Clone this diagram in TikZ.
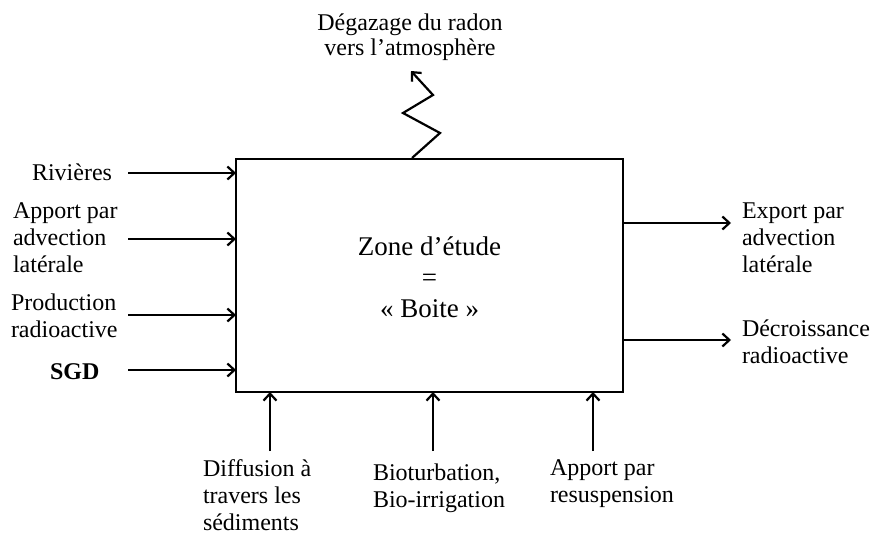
\documentclass[tikz,border=0pt]{standalone}
\usepackage{fontspec}
\setmainfont{Liberation Serif}
\usetikzlibrary{arrows.meta}
\tikzset{
  lbl/.style={inner sep=0pt, outer sep=0pt, align=left, anchor=base west, font=\fontsize{24}{27}\selectfont},
  flow/.style={line width=2.2pt, -{Straight Barb[length=7pt,width=13pt,line width=2.2pt]}},
  boxst/.style={draw, line width=2.4pt, minimum width=387pt, minimum height=233pt, inner sep=0pt, outer sep=0pt}
}
\begin{document}
\begin{tikzpicture}[x=1pt,y=-1pt]
\useasboundingbox (0,0) rectangle (871,533);
\node[boxst] (box) at (429.5,275.5) {};
\node[inner sep=0pt, align=center, anchor=base, font=\fontsize{27}{31}\selectfont] (zone) at (429.5,317) {Zone d’étude\\=\\« Boite »};
% left inputs
\node[lbl] (riv) at (32,180) {Rivières};
\node[lbl] (adv) at (13,272) {Apport par\\advection\\latérale};
\node[lbl] (prod) at (11,337) {Production\\radioactive};
\node[lbl, font=\fontsize{24}{27}\selectfont\bfseries] (sgd) at (50,379) {SGD};
\coordinate (a1) at (128,173);
\coordinate (a2) at (128,239);
\coordinate (a3) at (128,315);
\coordinate (a4) at (128,370);
\draw[flow] (a1) -- (a1 -| box.west);
\draw[flow] (a2) -- (a2 -| box.west);
\draw[flow] (a3) -- (a3 -| box.west);
\draw[flow] (a4) -- (a4 -| box.west);
% right outputs
\coordinate (r1) at (731,223);
\coordinate (r2) at (731,340);
\draw[flow] (r1 -| box.east) -- (r1);
\draw[flow] (r2 -| box.east) -- (r2);
\node[lbl] (exp) at (742,272) {Export par\\advection\\latérale};
\node[lbl] (dec) at (742,363) {Décroissance\\radioactive};
% bottom inputs
\coordinate (b1) at (270,451);
\coordinate (b2) at (433,451);
\coordinate (b3) at (593,451);
\draw[flow] (b1) -- (b1 |- box.south);
\draw[flow] (b2) -- (b2 |- box.south);
\draw[flow] (b3) -- (b3 |- box.south);
\node[lbl] (dif) at (203,530) {Diffusion à\\travers les\\sédiments};
\node[lbl] (bio) at (373,507) {Bioturbation,\\Bio-irrigation};
\node[lbl] (res) at (550,502) {Apport par\\resuspension};
% degassing
\coordinate (z0) at (412,158);
\coordinate (z1) at (440,133);
\coordinate (z2) at (403,113);
\coordinate (z3) at (433,95);
\coordinate (z4) at (411,71);
\draw[flow, line join=miter] (z0) -- (z1) -- (z2) -- (z3) -- (z4);
\node[inner sep=0pt, align=center, anchor=base, font=\fontsize{24}{25}\selectfont] (rad) at (410,55) {Dégazage du radon\\vers l’atmosphère};
\end{tikzpicture}
\end{document}
